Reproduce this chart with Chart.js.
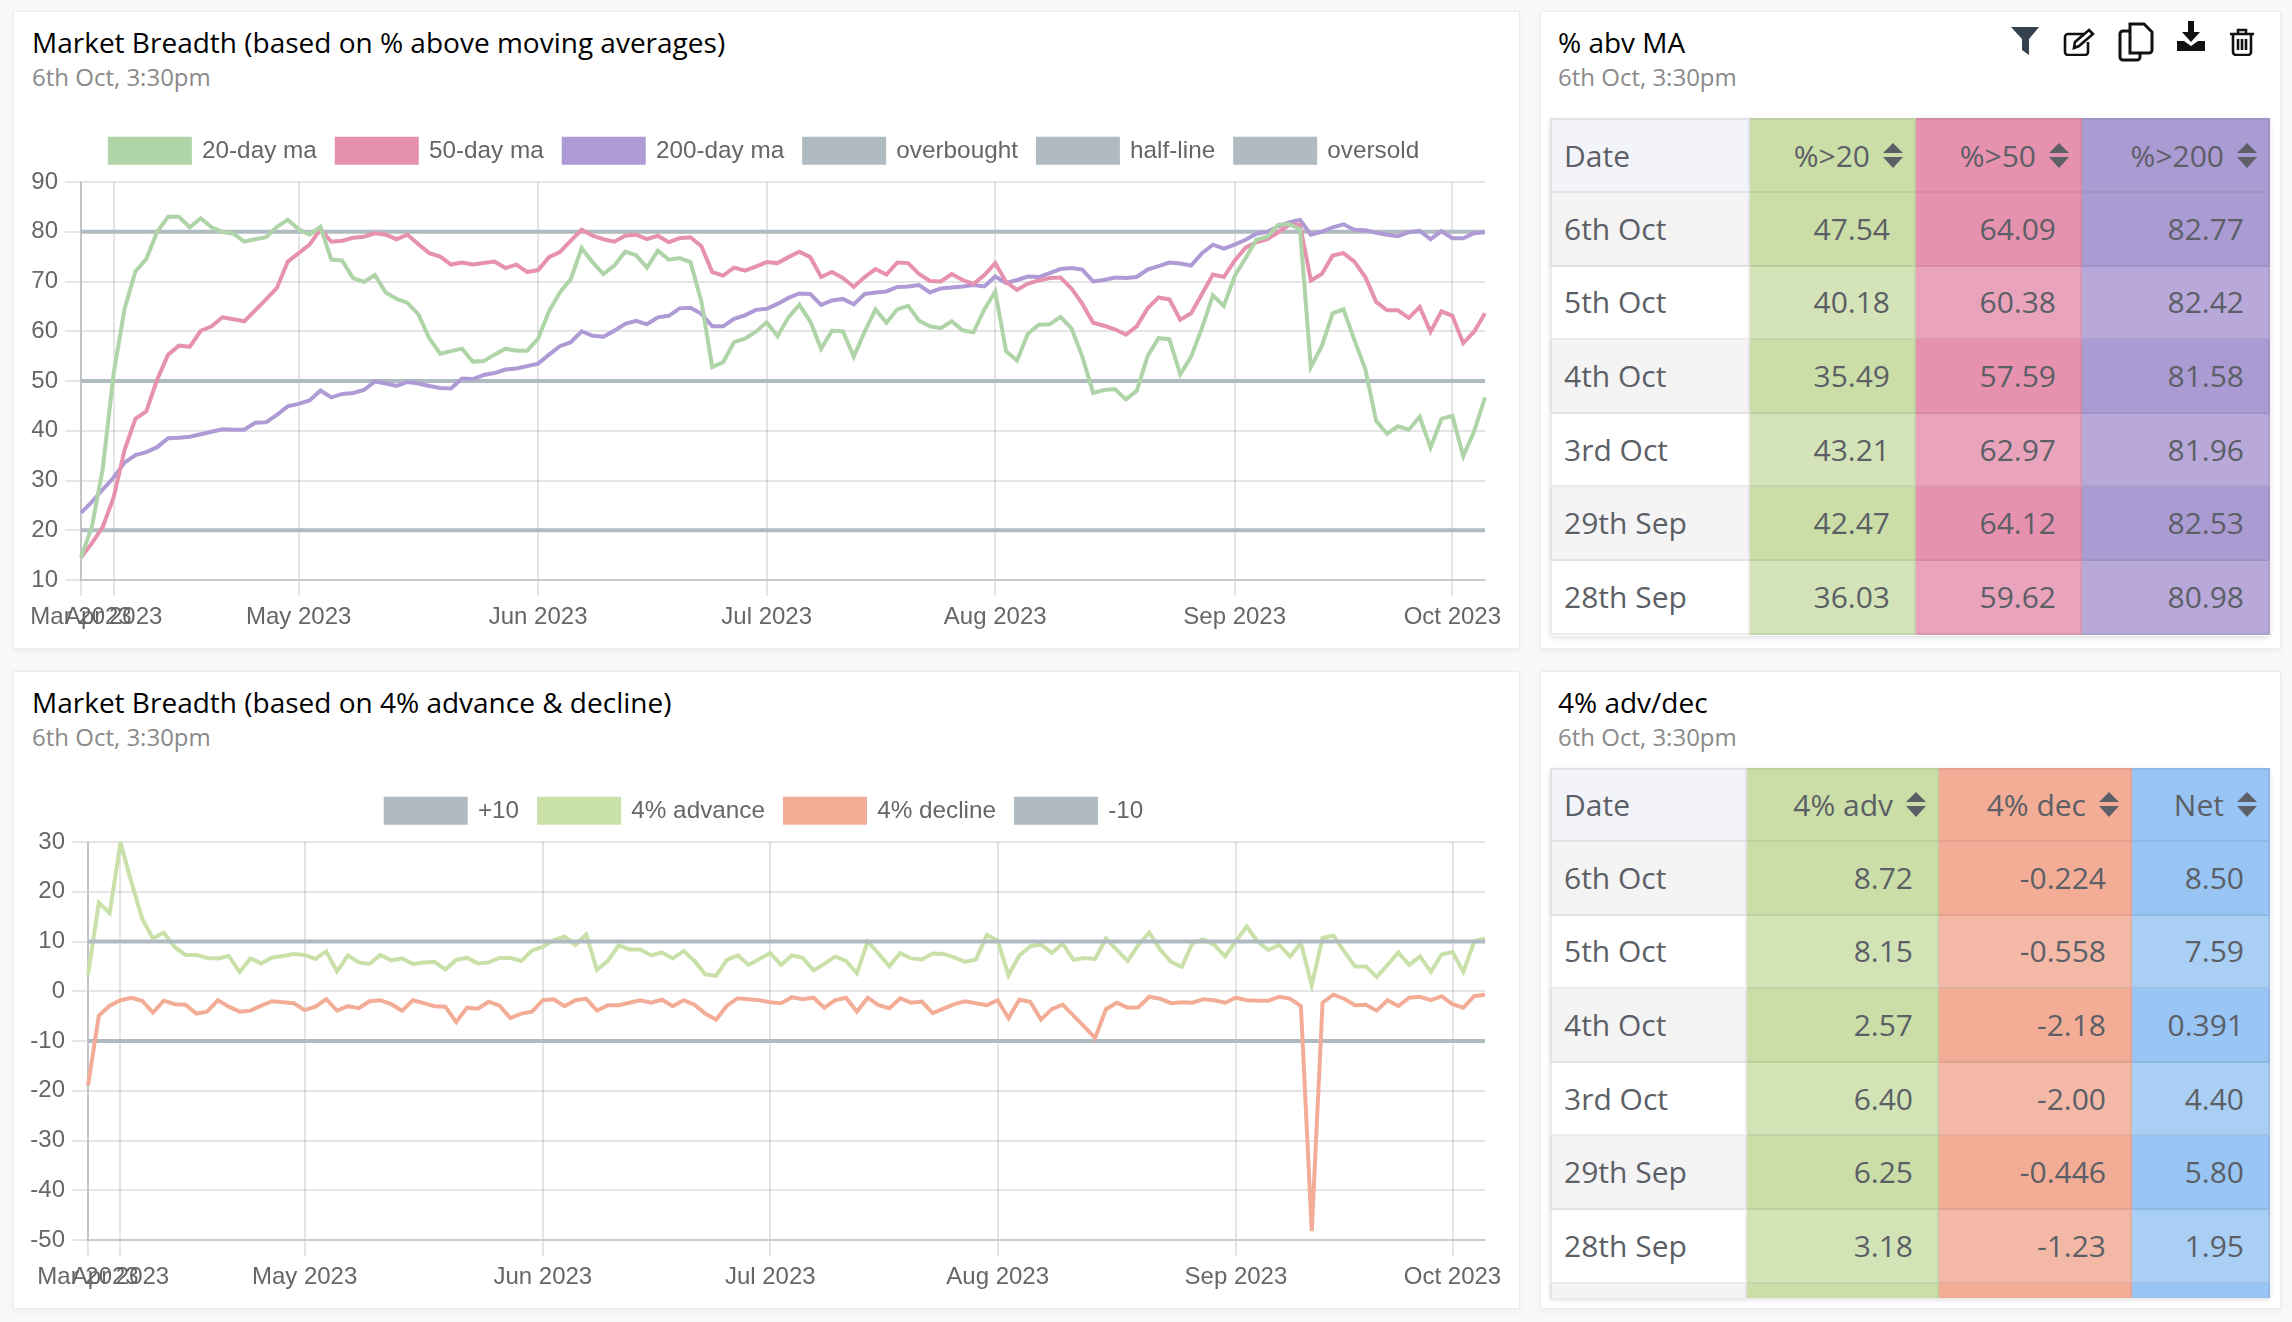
<!DOCTYPE html>
<html>
<head>
<meta charset="utf-8">
<title>Market Breadth</title>
<script src="https://cdn.jsdelivr.net/npm/chart.js@4"></script>
<style>
html, body { margin: 0; padding: 0; background: #f9f9f9; }
body { position: relative; width: 2292px; height: 1322px; overflow: hidden; font-family: "Open Sans", sans-serif; }
.card { position: absolute; background: #fff; border: 1px solid #ececec; box-sizing: border-box; box-shadow: 0 2px 8px rgba(0,0,0,.05); }
.title { position: absolute; color: #000; font-size: 28px; line-height: 36px; white-space: nowrap; }
.sub { position: absolute; color: #8a8a8a; font-size: 24px; line-height: 30px; white-space: nowrap; }
canvas { position: absolute; }
.wrap { position: absolute; left: 1550px; width: 720px; overflow: hidden; box-shadow: 0 2px 5px rgba(0,0,0,.12); }
table { border-collapse: separate; border-spacing: 0; table-layout: fixed; width: 720px; color: #5c5f66; font-size: 30px; }
th, td { box-sizing: border-box; padding: 0 24px 1px 0; text-align: right; font-weight: 400; white-space: nowrap;
  border-right: 2px solid rgba(70,70,90,.1); border-bottom: 2px solid rgba(70,70,90,.1); }
th { border-top: 2px solid rgba(70,70,90,.1); }
th svg { width: 20px; height: 25px; margin-left: 13px; margin-right: -13px; vertical-align: -1px; }
th:first-child, td:first-child { text-align: left; padding: 0 0 1px 12px; border-left: 2px solid rgba(70,70,90,.1); }
th:first-child { background: #f3f4f9; }
tr.odd td:first-child { background: #f4f4f5; }
tr.even td:first-child { background: #fff; }
.icon { position: absolute; }
</style>
</head>
<body>

<div class="card" style="left:13px;top:11px;width:1507px;height:638px"></div>
<div class="card" style="left:1540px;top:11px;width:741px;height:638px"></div>
<div class="card" style="left:13px;top:671px;width:1507px;height:638px"></div>
<div class="card" style="left:1540px;top:671px;width:741px;height:638px"></div>

<div class="title" style="left:32px;top:24px">Market Breadth (based on % above moving averages)</div>
<div class="sub" style="left:32px;top:62px">6th Oct, 3:30pm</div>
<div class="title" style="left:1558px;top:24px">% abv MA</div>
<div class="sub" style="left:1558px;top:62px">6th Oct, 3:30pm</div>
<div class="title" style="left:32px;top:684px">Market Breadth (based on 4% advance &amp; decline)</div>
<div class="sub" style="left:32px;top:722px">6th Oct, 3:30pm</div>
<div class="title" style="left:1558px;top:684px">4% adv/dec</div>
<div class="sub" style="left:1558px;top:722px">6th Oct, 3:30pm</div>

<!-- toolbar icons -->
<svg class="icon" style="left:2011px;top:27px" width="28" height="28" viewBox="0 0 28 28"><path d="M0 0H28L18 12V28L11 23V12Z" fill="#36414f"/></svg>
<svg class="icon" style="left:2063px;top:28px" width="32" height="28" viewBox="0 0 32 28" fill="none" stroke="#111" stroke-width="2.6"><path d="M21 6H5a3 3 0 0 0-3 3v15a3 3 0 0 0 3 3h17a3 3 0 0 0 3-3V14"/><path d="M11 20l1-6L26 2l4 4-14 12z"/></svg>
<svg class="icon" style="left:2118px;top:22px" width="36" height="40" viewBox="0 0 36 40" fill="none" stroke="#111" stroke-width="3"><path d="M12 2H26L34 10V28a3 3 0 0 1-3 3H12z"/><path d="M12 9H5a3 3 0 0 0-3 3V35a3 3 0 0 0 3 3H19a3 3 0 0 0 3-3V31"/></svg>
<svg class="icon" style="left:2177px;top:21px" width="28" height="30" viewBox="0 0 28 30"><path d="M11 0h6v11h6L14 21 5 11h6z" fill="#111"/><path d="M0 20h7l7 5 7-5h7v10H0z" fill="#111"/></svg>
<svg class="icon" style="left:2230px;top:28px" width="24" height="28" viewBox="0 0 24 28" fill="none" stroke="#111" stroke-width="2.6"><path d="M0 6H24M8 6V2h8V6"/><path d="M3 6V24a3 3 0 0 0 3 3H18a3 3 0 0 0 3-3V6"/><path d="M8 11V22M12 11V22M16 11V22"/></svg>

<canvas id="maChart"></canvas>
<canvas id="advChart"></canvas>

<div class="wrap" style="top:118px;height:518px"><table id="maTable"></table></div>
<div class="wrap" style="top:768px;height:530px"><table id="advTable"></table></div>

<script>
var days = [
  "28 Mar 2023","29 Mar 2023","31 Mar 2023",
  "3 Apr 2023","5 Apr 2023","6 Apr 2023","10 Apr 2023","11 Apr 2023","12 Apr 2023","13 Apr 2023","17 Apr 2023","18 Apr 2023","19 Apr 2023","20 Apr 2023","21 Apr 2023","24 Apr 2023","25 Apr 2023","26 Apr 2023","27 Apr 2023","28 Apr 2023",
  "2 May 2023","3 May 2023","4 May 2023","5 May 2023","8 May 2023","9 May 2023","10 May 2023","11 May 2023","12 May 2023","15 May 2023","16 May 2023","17 May 2023","18 May 2023","19 May 2023","22 May 2023","23 May 2023","24 May 2023","25 May 2023","26 May 2023","29 May 2023","30 May 2023","31 May 2023",
  "1 Jun 2023","2 Jun 2023","5 Jun 2023","6 Jun 2023","7 Jun 2023","8 Jun 2023","9 Jun 2023","12 Jun 2023","13 Jun 2023","14 Jun 2023","15 Jun 2023","16 Jun 2023","19 Jun 2023","20 Jun 2023","21 Jun 2023","22 Jun 2023","23 Jun 2023","26 Jun 2023","27 Jun 2023","28 Jun 2023","30 Jun 2023",
  "3 Jul 2023","4 Jul 2023","5 Jul 2023","6 Jul 2023","7 Jul 2023","10 Jul 2023","11 Jul 2023","12 Jul 2023","13 Jul 2023","14 Jul 2023","17 Jul 2023","18 Jul 2023","19 Jul 2023","20 Jul 2023","21 Jul 2023","24 Jul 2023","25 Jul 2023","26 Jul 2023","27 Jul 2023","28 Jul 2023","31 Jul 2023",
  "1 Aug 2023","2 Aug 2023","3 Aug 2023","4 Aug 2023","7 Aug 2023","8 Aug 2023","9 Aug 2023","10 Aug 2023","11 Aug 2023","14 Aug 2023","16 Aug 2023","17 Aug 2023","18 Aug 2023","21 Aug 2023","22 Aug 2023","23 Aug 2023","24 Aug 2023","25 Aug 2023","28 Aug 2023","29 Aug 2023","30 Aug 2023","31 Aug 2023",
  "1 Sep 2023","4 Sep 2023","5 Sep 2023","6 Sep 2023","7 Sep 2023","8 Sep 2023","11 Sep 2023","12 Sep 2023","13 Sep 2023","14 Sep 2023","15 Sep 2023","18 Sep 2023","20 Sep 2023","21 Sep 2023","22 Sep 2023","25 Sep 2023","26 Sep 2023","27 Sep 2023","28 Sep 2023","29 Sep 2023",
  "3 Oct 2023","4 Oct 2023","5 Oct 2023","6 Oct 2023"
];
// ticks only on the first trading day of a month
var monthStarts = ["28 Mar 2023","3 Apr 2023","2 May 2023","1 Jun 2023","3 Jul 2023","1 Aug 2023","1 Sep 2023","3 Oct 2023"];

var ma20 = [14.5,20.7,32.4,51.5,64.5,72,74.5,80,83,83,
  80.9,82.7,80.9,80,79.6,78,78.5,78.9,81,82.4,
  80.5,79.4,81,74.4,74.2,70.7,69.9,71.3,67.8,66.5,
  65.7,63.4,58.6,55.5,56,56.5,53.9,54,55.3,56.5,
  56.1,56.1,58.5,64,67.8,70.5,76.7,73.9,71.5,73.2,
  76,75.3,72.8,76.2,74.4,74.7,73.9,66,52.8,53.8,
  57.8,58.5,59.9,61.8,59,62.8,65.3,62,56.5,60.1,
  60,54.9,59.9,64.4,61.7,64.4,65.1,62.1,61,60.6,
  62,60.2,59.8,64.4,68,56,54.1,59.5,61.3,61.4,
  62.9,60.6,54.9,47.6,48.2,48.4,46.3,48,55,58.6,
  58.4,51.3,54.9,60.7,67.2,65.1,71.1,74.7,78.4,79,
  81.4,81.5,80.5,52.8,57,63.6,64.4,58.2,52.4,42,
  39.4,40.9,40.2,42.8,36.6,42.4,43,34.9,39.9,46.7];
var ma50 = [14.5,17.4,20.7,26.6,36.1,42.4,43.9,50.3,55.3,57.1,
  56.9,60.1,61,62.8,62.4,62,64.2,66.4,68.7,74,
  75.7,77.4,80.5,78,78.2,78.8,79,79.7,79.4,78.5,
  79.4,77.5,75.7,75,73.4,73.8,73.4,73.7,74,72.7,
  73.4,71.9,72.3,74.9,75.9,78.2,80.4,79.2,78.5,78,
  79.2,79.4,78.5,79.2,77.9,78.7,78.9,77.1,71.9,71.2,
  72.8,72.2,73,73.9,73.7,74.9,76,74.9,70.9,71.9,
  70.7,68.9,70.9,72.5,71.4,73.8,73.7,71.5,70.1,70,
  71.5,70.3,69.5,71.3,73.7,69.9,68.3,69.6,70.2,70.7,
  70.8,68.6,65.5,61.7,61.1,60.4,59.3,61,64.6,66.8,
  66.4,62.3,63.6,67.5,71.4,70.9,74.2,76.8,77.9,78.5,
  79.9,81.4,81.4,70.2,71.5,75.2,75.7,74,70.9,65.9,
  64.2,64.2,62.7,64.9,59.9,64,63.1,57.6,59.9,63.6];
var ma200 = [23.5,25.7,28.2,30.6,33.6,35.1,35.7,36.7,38.5,38.6,
  38.8,39.3,39.8,40.3,40.2,40.2,41.6,41.7,43.2,44.9,
  45.4,46.1,48.1,46.7,47.4,47.6,48.2,49.9,49.5,49,
  49.8,49.5,49,48.6,48.5,50.5,50.4,51.2,51.6,52.3,
  52.5,53,53.5,55.3,57,57.8,60,59.1,58.9,60.1,
  61.5,62.1,61.4,62.8,63.1,64.6,64.7,63.5,61,61,
  62.5,63.2,64.3,64.5,65.5,66.7,67.6,67.5,65.3,66.2,
  66.5,65.4,67.5,67.8,68,68.9,69,69.3,67.8,68.6,
  68.8,69,69.3,69,71,69.7,70.3,71,70.9,71.7,
  72.5,72.7,72.4,70,70.3,70.8,70.7,70.9,72.4,73.1,
  73.8,73.6,73.2,75.7,77.4,76.6,77.4,78.4,79.6,80,
  81.1,81.9,82.4,79.4,80,80.9,81.5,80.4,80.3,79.8,
  79.4,79.1,79.9,80.2,78.5,80.1,78.7,78.7,79.7,79.9];
var adv4 = [3.3,17.8,15.7,29.8,22,14.6,10.6,11.8,8.9,7.3,
  7.3,6.7,6.6,7.1,3.9,6.6,5.6,6.8,7.1,7.5,
  7.3,6.5,8,4,7.2,5.8,5.5,7.3,6.2,6.6,
  5.5,5.8,5.9,4.4,6.3,6.7,5.6,5.8,6.7,6.7,
  6.1,8.2,8.9,10.3,11,9.3,11.4,4.3,6.1,9.2,
  8.4,8.4,7.2,7.8,6.6,8.1,6.1,3.4,3.1,6.3,
  7.2,5.3,6.5,7.7,5.3,7.2,6.7,4.2,5.5,7,
  6.1,3.6,10,7.6,5,7.7,6.6,6.4,7.6,7.5,
  6.8,5.9,6.4,11.3,10.2,3.2,7.2,9,9.4,7.7,
  9.6,6.3,6.7,6.5,10.6,8.3,6.1,9.3,11.8,8.4,
  5.9,4.9,9.7,10.4,9.3,7,10.1,13,10,8.3,
  9.3,7,9.7,1.2,10.7,11.2,8,5,5,2.9,
  5.3,7.8,5.3,7,3.9,7.4,7.9,3.9,10,10.6];
var dec4 = [-19,-4.9,-2.9,-1.8,-1.3,-1.9,-4.3,-1.9,-2.6,-2.7,
  -4.5,-4.1,-1.8,-3.1,-4.1,-3.9,-2.9,-2,-2.2,-2.4,
  -3.8,-3.1,-1.6,-3.9,-3,-3.4,-2,-1.8,-2.6,-3.9,
  -1.8,-2.4,-3,-3.1,-6.2,-3.3,-3.5,-2.1,-2.9,-5.4,
  -4.5,-4.1,-1.8,-1.6,-3,-1.8,-1.5,-3.9,-2.8,-2.8,
  -2.3,-1.8,-2.3,-1.7,-3,-1.8,-2.7,-4.5,-5.7,-2.9,
  -1.4,-1.6,-1.8,-2.2,-2.4,-1.2,-1.6,-1.3,-3.3,-1.8,
  -1.3,-4.1,-1.3,-2.8,-3.4,-1.4,-2.3,-2.1,-4.4,-3.5,
  -2.6,-2,-2.4,-2.8,-1.8,-5.4,-1.7,-2.1,-5.7,-3.6,
  -2.7,-4.9,-7.1,-9.4,-3.6,-2.3,-3.3,-3.2,-1.1,-1.5,
  -2.4,-2.2,-2.3,-1.6,-1.8,-2.3,-1.3,-1.8,-1.9,-1.9,
  -1.1,-1.5,-3,-48.2,-2.3,-0.7,-1.5,-2.8,-2.7,-3.9,
  -1.8,-3,-1.3,-1.1,-1.8,-1,-2.6,-3.3,-1,-0.7];

var overbought = days.map(function(){ return 80; });
var halfLine = days.map(function(){ return 50; });
var oversold = days.map(function(){ return 20; });
var plusTen = days.map(function(){ return 10; });
var minusTen = days.map(function(){ return -10; });

var maRows = ["6th Oct","5th Oct","4th Oct","3rd Oct","29th Sep","28th Sep"];
var above20 = ["47.54","40.18","35.49","43.21","42.47","36.03"];
var above50 = ["64.09","60.38","57.59","62.97","64.12","59.62"];
var above200 = ["82.77","82.42","81.58","81.96","82.53","80.98"];

var advRows = ["6th Oct","5th Oct","4th Oct","3rd Oct","29th Sep","28th Sep",""];
var tblAdv = ["8.72","8.15","2.57","6.40","6.25","3.18",""];
var tblDec = ["-0.224","-0.558","-2.18","-2.00","-0.446","-1.23",""];
var tblNet = ["8.50","7.59","0.391","4.40","5.80","1.95",""];

var GREEN = "#aed4a8", PINK = "#e691ad", PURPLE = "#ae9bd6", GREY = "#b0bbc1";
var LIGHTGREEN = "#c9e0a8", SALMON = "#f3ad96";

function line(label, data, color) {
  return { label: label, data: data, borderColor: color, backgroundColor: color, borderWidth: 4,
    pointRadius: 0, fill: false, tension: 0 };
}

// y labels hang left of the axis box, stop the scale clipping them; legend sits a bit higher
var tweakLayout = { id: "tweakLayout", afterLayout: function(chart) {
  chart.scales.y.left = 0;
  chart.legend.top -= 9;
  chart.legend.bottom -= 9;
} };

function drawChart(id, left, top, yWidth, yMin, yMax, datasets) {
  var canvas = document.getElementById(id);
  canvas.width = 1509; canvas.height = 531;
  canvas.style.left = left + "px"; canvas.style.top = top + "px";
  canvas.style.width = "1509px"; canvas.style.height = "531px";
  new Chart(canvas, {
    type: "line",
    data: { labels: days, datasets: datasets },
    plugins: [tweakLayout],
    options: {
      responsive: false,
      devicePixelRatio: 1,
      animation: false,
      layout: { padding: { left: 34, right: 34 } },
      plugins: {
        legend: { labels: { boxWidth: 80, boxHeight: 24, padding: 20, color: "#666",
          font: { family: "'Liberation Sans'", size: 24.3 } } },
        tooltip: { enabled: false }
      },
      scales: {
        x: {
          afterBuildTicks: function(axis) {
            axis.ticks = axis.ticks.filter(function(t) { return monthStarts.indexOf(days[t.value]) >= 0; });
          },
          afterFit: function(s) { s.height = 69; s.paddingLeft = 0; s.paddingRight = 0; },
          grid: { lineWidth: 2, color: "rgba(0,0,0,.1)", tickLength: 16 },
          border: { width: 2, color: "rgba(0,0,0,.12)" },
          ticks: { autoSkip: false, maxRotation: 0, minRotation: 0, padding: 7, color: "#666",
            font: { family: "'Liberation Sans'", size: 24 },
            callback: function(v) { return this.getLabelForValue(v).split(" ").slice(1).join(" "); } }
        },
        y: {
          min: yMin, max: yMax,
          afterFit: function(s) { s.width = yWidth; s.paddingTop = 64; s.paddingBottom = 0; },
          grid: { lineWidth: 2, color: "rgba(0,0,0,.1)", tickLength: 16 },
          border: { width: 2, color: "rgba(0,0,0,.15)" },
          ticks: { stepSize: 10, padding: 7, color: "#666", font: { family: "'Liberation Sans'", size: 24 } }
        }
      }
    }
  });
}

drawChart("maChart", 10, 118, 37, 10, 90, [
  line("20-day ma", ma20, GREEN),
  line("50-day ma", ma50, PINK),
  line("200-day ma", ma200, PURPLE),
  line("overbought", overbought, GREY),
  line("half-line", halfLine, GREY),
  line("oversold", oversold, GREY)
]);

drawChart("advChart", 10, 778, 44, -50, 30, [
  line("+10", plusTen, GREY),
  line("4% advance", adv4, LIGHTGREEN),
  line("4% decline", dec4, SALMON),
  line("-10", minusTen, GREY)
]);

var SORT = '<svg viewBox="0 0 20 25"><path d="M10 0L20 10H0Z M0 14H20L10 25Z" fill="#5c5f66"/></svg>';

function buildTable(id, widths, headH, rowH, dates, cols) {
  var html = "<colgroup>";
  widths.forEach(function(w) { html += '<col style="width:' + w + 'px">'; });
  html += '</colgroup><tr style="height:' + headH + 'px"><th>Date</th>';
  cols.forEach(function(c) { html += '<th style="background:' + c.dark + '">' + c.name + SORT + "</th>"; });
  html += "</tr>";
  dates.forEach(function(d, i) {
    var odd = i % 2 === 0;
    html += '<tr class="' + (odd ? "odd" : "even") + '" style="height:' + rowH + 'px"><td>' + d + "</td>";
    cols.forEach(function(c) {
      html += '<td style="background:' + (odd ? c.dark : c.light) + '">' + c.vals[i] + "</td>";
    });
    html += "</tr>";
  });
  document.getElementById(id).innerHTML = html;
}

buildTable("maTable", [200, 166, 166, 188], 75, 73.6, maRows, [
  { name: "%&gt;20", vals: above20, dark: "#cbdea8", light: "#d4e4b8" },
  { name: "%&gt;50", vals: above50, dark: "#e691ad", light: "#e9a3bb" },
  { name: "%&gt;200", vals: above200, dark: "#ab9bd3", light: "#b8a9da" }
]);
buildTable("advTable", [197, 192, 193, 138], 74, 73.6, advRows, [
  { name: "4% adv", vals: tblAdv, dark: "#cbdea8", light: "#d2e4b6" },
  { name: "4% dec", vals: tblDec, dark: "#f3ad96", light: "#f4b9a6" },
  { name: "Net", vals: tblNet, dark: "#98c5f4", light: "#a9cff5" }
]);
</script>
</body>
</html>
